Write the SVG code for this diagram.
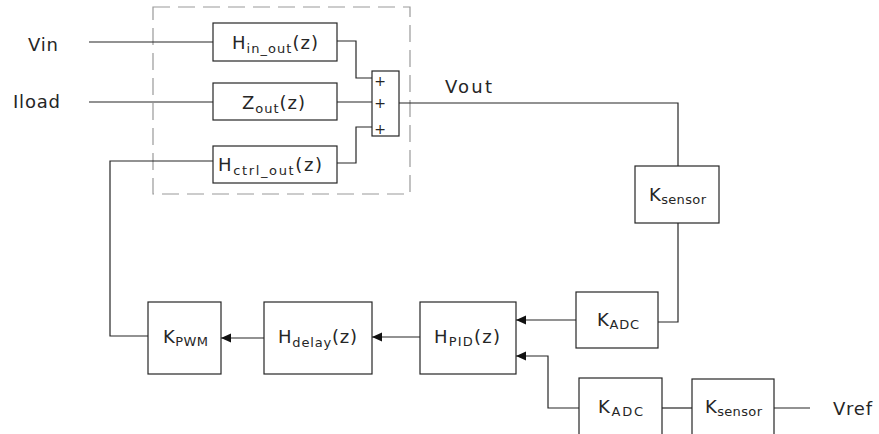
<svg xmlns="http://www.w3.org/2000/svg" width="879" height="434" viewBox="0 0 879 434">
<style>
.box{fill:#fff;stroke:#262626;stroke-width:1.2}
.ln{fill:none;stroke:#262626;stroke-width:1.2}
.t{font-family:"DejaVu Sans","Liberation Sans",sans-serif;font-size:18px;fill:#262626}
.s{font-size:13px}
.p{font-family:"DejaVu Sans","Liberation Sans",sans-serif;font-size:14px;fill:#262626;text-anchor:middle}
</style>
<defs>
<marker id="ah" markerUnits="userSpaceOnUse" markerWidth="12" markerHeight="10" refX="10" refY="4.5" orient="auto">
<path d="M0,0 L10,4.5 L0,9 Z" fill="#111"/>
</marker>
</defs>
<rect x="0" y="0" width="879" height="434" fill="#fff"/>
<rect id="subsystem" x="153" y="7" width="257" height="187" fill="none" stroke="#999" stroke-width="1.2" stroke-dasharray="17 8"/>
<g id="connectors">
<path class="ln" d="M89 42H213"/>
<path class="ln" d="M89 102H213"/>
<path class="ln" d="M337 41H356V78H372"/>
<path class="ln" d="M337 102H372"/>
<path class="ln" d="M337 163H356V127H372"/>
<path class="ln" d="M399 103H678V166"/>
<path class="ln" d="M678 223V322H658"/>
<path class="ln" d="M576 320H516" marker-end="url(#ah)"/>
<path class="ln" d="M420 337H372" marker-end="url(#ah)"/>
<path class="ln" d="M264 338H221" marker-end="url(#ah)"/>
<path class="ln" d="M148 336H110V161H213"/>
<path class="ln" d="M579 408H548V356H516" marker-end="url(#ah)"/>
<path class="ln" d="M692 408H662"/>
<path class="ln" d="M810 408H774"/>
</g>
<g id="labels">
<text class="t" x="28" y="51" textLength="30">Vin</text>
<text class="t" x="13" y="108" textLength="47">Iload</text>
<text class="t" x="445" y="93" textLength="47">Vout</text>
<text class="t" x="833" y="415" textLength="39">Vref</text>
</g>
<g id="H_in_out">
<rect class="box" x="213" y="23" width="124" height="38"/>
<text class="t" x="232" y="49" textLength="86">H<tspan class="s" dy="4">in_out</tspan><tspan dy="-4">(z)</tspan></text>
</g>
<g id="Z_out">
<rect class="box" x="213" y="83" width="124" height="37"/>
<text class="t" x="242" y="109" textLength="63">Z<tspan class="s" dy="4">out</tspan><tspan dy="-4">(z)</tspan></text>
</g>
<g id="H_ctrl_out">
<rect class="box" x="213" y="146" width="124" height="37"/>
<text class="t" x="218" y="171" textLength="104">H<tspan class="s" dy="4">ctrl_out</tspan><tspan dy="-4">(z)</tspan></text>
</g>
<g id="sum">
<rect class="box" x="372" y="71" width="27" height="65"/>
<text class="p" x="380" y="86">+</text>
<text class="p" x="380" y="108">+</text>
<text class="p" x="380" y="134">+</text>
</g>
<g id="K_sensor_fb">
<rect class="box" x="635" y="166" width="84" height="57"/>
<text class="t" x="649" y="201" textLength="57">K<tspan class="s" dy="3">sensor</tspan></text>
</g>
<g id="K_ADC_fb">
<rect class="box" x="576" y="292" width="82" height="56"/>
<text class="t" x="597" y="326" textLength="42">K<tspan class="s" dy="3">ADC</tspan></text>
</g>
<g id="H_PID">
<rect class="box" x="420" y="302" width="96" height="72"/>
<text class="t" x="434" y="343" textLength="66">H<tspan class="s" dy="3">PID</tspan><tspan dy="-3">(z)</tspan></text>
</g>
<g id="H_delay">
<rect class="box" x="264" y="302" width="108" height="72"/>
<text class="t" x="278" y="343" textLength="79">H<tspan class="s" dy="4">delay</tspan><tspan dy="-4">(z)</tspan></text>
</g>
<g id="K_PWM">
<rect class="box" x="148" y="302" width="73" height="72"/>
<text class="t" x="163" y="343" textLength="45">K<tspan class="s" dy="3">PWM</tspan></text>
</g>
<g id="K_ADC_ref">
<rect class="box" x="579" y="378" width="83" height="62"/>
<text class="t" x="598" y="413" textLength="45">K<tspan class="s" dy="3">ADC</tspan></text>
</g>
<g id="K_sensor_ref">
<rect class="box" x="692" y="379" width="82" height="61"/>
<text class="t" x="705" y="413" textLength="57">K<tspan class="s" dy="3">sensor</tspan></text>
</g>
</svg>
